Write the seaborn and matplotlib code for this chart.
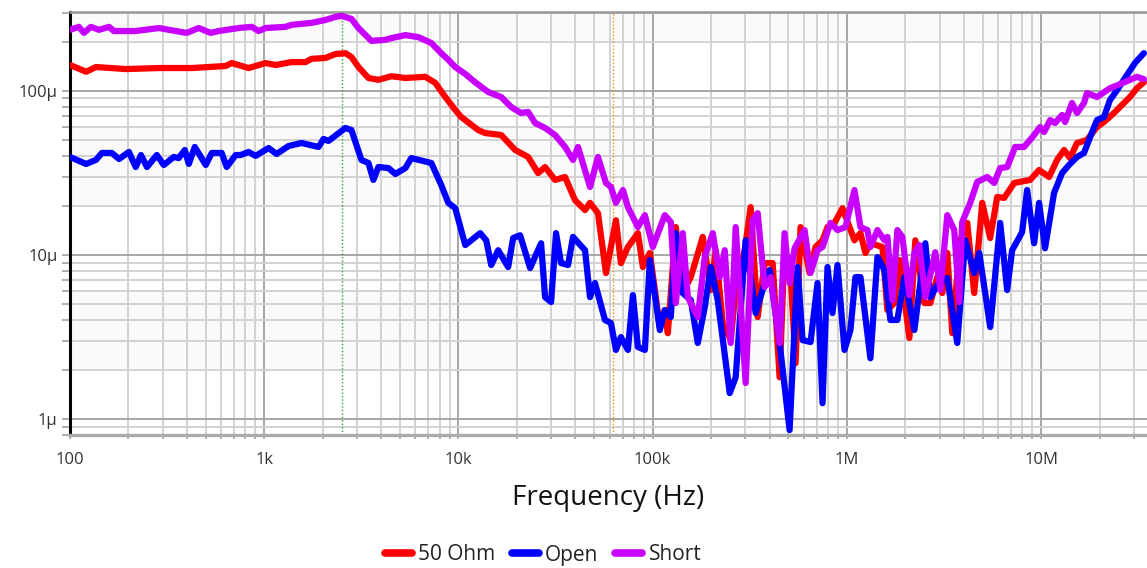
import numpy as np
import pandas as pd
import matplotlib
matplotlib.use("Agg")
import matplotlib.pyplot as plt
import matplotlib.ticker as mticker
import seaborn as sns

# ---------------- data (values in µ units, frequency in Hz) ----------------
series_names = ["50 Ohm", "Open", "Short"]
series_colors = ["#ff0000", "#0000ff", "#c800ff"]

ohm50_freq = [100, 121, 136, 194, 287, 424, 633, 680, 831, 1017, 1145, 1383, 1632, 1752,
              2068, 2328, 2620, 2813, 3056, 3440, 3871, 4515, 5330, 6752, 7600, 8555,
              9630, 10340, 12640, 13730, 16600, 19590, 22850, 25710, 27930, 31440,
              35390, 39830, 44840, 47580, 52290, 57480, 64700, 68650, 74570, 83940,
              89050, 96740, 108900, 115500, 119700, 131600, 142900, 157200, 181100,
              199100, 211200, 229500, 252300, 267600, 297700, 319600, 347300, 377300,
              414800, 450500, 477900, 513000, 544300, 577500, 642400, 689700, 749300,
              794900, 863500, 949300, 1.094e6, 1.175e6, 1.246e6, 1.322e6, 1.524e6,
              1.617e6, 1.756e6, 1.864e6, 2.098e6, 2.252e6, 2.505e6, 2.689e6, 2.922e6,
              3.099e6, 3.289e6, 3.489e6, 3.835e6, 4.166e6, 4.526e6, 4.976e6, 5.470e6,
              5.942e6, 6.455e6, 7.266e6, 8.779e6, 9.765e6, 11.00e6, 12.08e6, 13.13e6,
              14.09e6, 15.31e6, 17.23e6, 19.40e6, 21.07e6, 23.72e6, 26.71e6, 28.67e6,
              31.14e6, 33.83e6]
ohm50_uv = [144, 131, 140, 136, 138, 138, 142, 148, 138, 148, 144, 150, 150, 157,
            159, 168, 170, 161, 140, 120, 117, 123, 120, 122, 112, 91.9,
            76.6, 69.4, 57.8, 55.4, 53.9, 43.7, 39.6, 31.6, 34.4, 28.7,
            29.9, 21.6, 18.8, 20.8, 18.0, 7.77, 16.3, 8.93, 11.2, 13.6,
            8.45, 10.3, 3.64, 4.62, 3.34, 14.8, 5.87, 7.34, 12.9,
            6.12, 10.7, 3.85, 3.03, 6.12, 10.7, 19.6, 4.19, 8.93,
            8.93, 1.80, 11.2, 7.77, 2.19, 14.8, 7.77, 11.2, 12.3,
            14.8, 15.7, 19.3, 12.3, 13.6, 10.3, 11.8, 11.2,
            4.62, 5.10, 9.32, 3.12, 12.3, 5.10, 5.10, 7.34,
            5.87, 10.3, 3.34, 12.3, 15.7, 5.87, 20.8, 12.7,
            22.6, 22.3, 27.5, 28.7, 33.0, 29.9, 38.0, 43.7,
            39.0, 48.2, 50.3, 60.3, 64.7, 73.4, 84.5, 91.9,
            104, 113]

open_freq = [100, 121, 136, 146, 164, 179, 201, 218, 232, 249, 280, 304, 342, 363, 390,
             409, 439, 500, 537, 604, 641, 713, 756, 831, 903, 1053, 1158, 1335, 1556,
             1904, 2020, 2142, 2620, 2813, 3166, 3440, 3649, 3871, 4359, 4734, 5330,
             5722, 7250, 8156, 8864, 9630, 10840, 12940, 13900, 14750, 16020, 18030,
             19130, 20780, 23390, 26640, 27930, 29990, 31810, 33750, 36680, 38900,
             44840, 47580, 50470, 56800, 61000, 64700, 68650, 74570, 79120, 83940,
             91190, 96740, 108900, 115500, 124000, 131600, 142900, 157200, 170700,
             185500, 199100, 216300, 249300, 267600, 301200, 339100, 377300, 400400,
             450500, 507000, 557300, 591300, 650100, 706300, 749300, 794900, 843400,
             894700, 972100, 1.043e6, 1.107e6, 1.175e6, 1.322e6, 1.437e6, 1.561e6,
             1.675e6, 1.820e6, 1.977e6, 2.226e6, 2.535e6, 2.689e6, 2.991e6, 3.289e6,
             3.701e6, 4.069e6, 4.526e6, 4.802e6, 5.470e6, 6.157e6, 6.688e6, 7.096e6,
             7.987e6, 8.473e6, 9.204e6, 9.765e6, 10.48e6, 11.66e6, 12.82e6, 13.93e6,
             15.31e6, 16.63e6, 17.65e6, 19.40e6, 21.07e6, 22.63e6, 24.58e6, 27.67e6,
             30.41e6, 33.83e6]
open_uv = [39.6, 35.9, 38.0, 41.9, 41.9, 38.5, 42.5, 34.4, 40.7, 34.4, 40.7, 35.4, 39.6, 39.0, 43.7,
           35.9, 45.6, 35.4, 41.9, 41.9, 34.4, 40.7, 40.7, 42.5, 40.2, 44.9, 41.3, 46.2, 48.2,
           45.6, 51.0, 49.6, 59.5, 57.8, 38.0, 36.4, 28.7, 34.4, 33.9, 31.2, 33.9,
           39.0, 36.4, 26.7, 20.8, 19.3, 11.5, 13.6, 12.3, 8.69, 10.7, 8.45,
           12.7, 13.2, 8.33, 11.8, 5.54, 5.17, 13.6, 8.93, 8.69, 12.9,
           10.7, 5.54, 6.75, 4.02, 3.85, 2.64, 3.16, 2.64, 5.70, 2.75,
           2.64, 9.32, 3.49, 4.62, 4.19, 13.6, 5.87, 5.31, 2.91,
           4.82, 8.45, 5.31, 1.44, 1.80, 12.3, 4.43, 6.75, 8.10,
           2.91, 0.857, 8.45, 3.03, 2.95, 6.75, 1.25, 8.45, 4.43,
           8.69, 2.64, 3.49, 7.34, 7.34, 2.35, 9.72, 8.10,
           4.02, 4.02, 7.34, 3.49, 11.8, 5.54, 6.85, 7.24,
           2.91, 12.3, 7.77, 10.3, 3.64, 15.7, 6.12, 10.7,
           13.8, 24.9, 11.8, 20.8, 11.0, 23.9, 31.6, 35.4,
           39.6, 41.9, 50.3, 66.5, 69.4, 88.1, 101, 125,
           148, 170]

short_freq = [100, 111, 118, 128, 141, 159, 168, 218, 287, 350, 399, 460, 530, 583, 739,
              862, 936, 1017, 1288, 1383, 1752, 2068, 2328, 2500, 2813, 3056, 3563, 4206,
              4515, 5330, 6217, 7250, 8156, 8864, 9630, 10840, 12200, 14230, 16600,
              18680, 21020, 22850, 24820, 27930, 31440, 35390, 38900, 41270, 47580,
              52290, 57480, 61000, 64700, 70300, 74570, 83940, 91190, 100200, 115500,
              124000, 131600, 142900, 151700, 170700, 185500, 203900, 221500, 235000,
              252300, 267600, 301200, 327300, 347300, 377300, 405100, 450500, 477900,
              507000, 537900, 605500, 650100, 706300, 749300, 823600, 894700, 983500,
              1.094e6, 1.175e6, 1.276e6, 1.322e6, 1.437e6, 1.561e6, 1.617e6, 1.715e6,
              1.820e6, 1.931e6, 2.098e6, 2.226e6, 2.361e6, 2.535e6, 2.853e6, 3.027e6,
              3.289e6, 3.572e6, 3.789e6, 3.926e6, 4.317e6, 4.690e6, 5.279e6, 5.735e6,
              6.157e6, 6.688e6, 7.352e6, 8.178e6, 9.204e6, 9.882e6, 10.36e6, 11.13e6,
              11.80e6, 12.82e6, 13.29e6, 14.43e6, 15.31e6, 16.63e6, 17.23e6, 19.40e6,
              22.63e6, 25.47e6, 28.67e6, 31.14e6, 33.83e6]
short_uv = [236, 246, 226, 246, 236, 246, 232, 232, 242, 232, 226, 242, 226, 232, 242,
            246, 232, 242, 246, 253, 260, 271, 283, 287, 275, 242, 202, 205,
            210, 219, 213, 196, 170, 155, 140, 127, 113, 98.6, 91.9,
            79.9, 73.4, 74.5, 63.8, 59.5, 53.9, 45.6, 38.0, 45.6, 26.0,
            39.6, 27.5, 26.0, 20.8, 24.9, 19.6, 14.8, 17.5, 11.2, 17.5,
            15.9, 5.10, 13.6, 5.54, 4.19, 9.72, 13.6, 7.34, 10.7,
            2.91, 14.8, 1.66, 16.3, 18.0, 6.38, 7.34, 2.91, 13.6,
            6.75, 11.0, 14.2, 7.77, 10.7, 11.2, 15.7, 14.2, 14.8,
            24.9, 14.8, 14.2, 11.2, 14.2, 12.3, 12.9, 5.31,
            14.2, 12.9, 5.70, 10.3, 11.5, 5.54, 10.4, 6.12,
            17.5, 14.2, 5.17, 15.9, 20.8, 27.9, 29.9, 27.5,
            33.9, 34.4, 45.6, 45.6, 53.9, 60.3, 56.2, 66.5,
            63.8, 71.4, 64.7, 84.5, 73.4, 84.5, 97.2, 91.9,
            104, 110, 117, 122, 118]

marker_freqs = [2500, 62500]
marker_colors = ["#2ca02c", "#ff8c00"]

y_tick_vals = [1, 10, 100]
y_tick_labels = ["1µ", "10µ", "100µ"]
x_tick_vals = [1e2, 1e3, 1e4, 1e5, 1e6, 1e7]
x_tick_labels = ["100", "1k", "10k", "100k", "1M", "10M"]

# ---------------- build long-form frame ----------------
frames = []
for name, fr, vals in zip(series_names,
                          [ohm50_freq, open_freq, short_freq],
                          [ohm50_uv, open_uv, short_uv]):
    frames.append(pd.DataFrame({"freq": fr, "val": vals, "series": name}))
df = pd.concat(frames, ignore_index=True)

# ---------------- style ----------------
sns.set_theme(style="white")
plt.rcParams["font.family"] = ["Open Sans", "DejaVu Sans"]

fig = plt.figure(figsize=(11.47, 5.68), dpi=100)
ax = fig.add_axes([70 / 1147, 1 - 435 / 568, 1 - 70 / 1147, (435 - 12) / 568])

ax.set_xscale("log")
ax.set_yscale("log")
ax.set_xlim(100, 35.1e6)
ax.set_ylim(0.8, 303)

# background bands
for lo, hi in [(2, 6), (20, 60), (200, 600)]:
    ax.axhspan(lo, hi, color="#fafafa", zorder=0.1, lw=0)

sns.lineplot(data=df, x="freq", y="val", hue="series", hue_order=series_names,
             palette=series_colors, estimator=None, sort=False, lw=4.5, ax=ax,
             legend=True, zorder=3)

for fq, c in zip(marker_freqs, marker_colors):
    ax.axvline(fq, color=c, lw=1, ls=(0, (1, 1.5)), zorder=2)

ax.xaxis.set_major_locator(mticker.FixedLocator(x_tick_vals))
ax.xaxis.set_major_formatter(mticker.FixedFormatter(x_tick_labels))
ax.xaxis.set_minor_locator(mticker.LogLocator(base=10, subs=np.arange(2, 10), numticks=20))
ax.xaxis.set_minor_formatter(mticker.NullFormatter())
ax.yaxis.set_major_locator(mticker.FixedLocator(y_tick_vals))
ax.yaxis.set_major_formatter(mticker.FixedFormatter(y_tick_labels))
ax.yaxis.set_minor_locator(mticker.LogLocator(base=10, subs=np.arange(2, 10), numticks=20))
ax.yaxis.set_minor_formatter(mticker.NullFormatter())

ax.set_axisbelow(True)
ax.grid(which="major", color="#a6a6a6", lw=1.4, zorder=1)
ax.grid(which="minor", color="#d2d2d2", lw=1.4, zorder=1)

ax.tick_params(axis="y", which="both", direction="out", left=True, length=6, width=1.4,
               color="#b0b0b0", labelsize=12, labelcolor="#333333", pad=3)
ax.tick_params(axis="x", which="both", direction="out", bottom=True, length=3, width=1.4,
               color="#b0b0b0", labelsize=12, labelcolor="#333333", pad=9)

ax.spines["right"].set_visible(False)
ax.spines["left"].set_color("#000000")
ax.spines["left"].set_linewidth(2.2)
ax.spines["top"].set_color("#999999")
ax.spines["top"].set_linewidth(1.8)
ax.spines["bottom"].set_color("#aaaaaa")
ax.spines["bottom"].set_linewidth(2.4)

ax.set_xlabel("Frequency (Hz)", fontsize=20, color="#111111", labelpad=12)
ax.set_ylabel("")

handles, labels = ax.get_legend_handles_labels()
ax.legend_.remove()
for h in handles:
    h.set_linewidth(5.5)
    h.set_solid_capstyle("round")
fig.legend(handles, labels, loc="center", bbox_to_anchor=(543 / 1147, 1 - 555 / 568),
           ncol=3, frameon=False, fontsize=15, handlelength=1.3, handletextpad=0.3,
           columnspacing=0.8, labelcolor="#222222")

fig.savefig("out.png", dpi=100)
